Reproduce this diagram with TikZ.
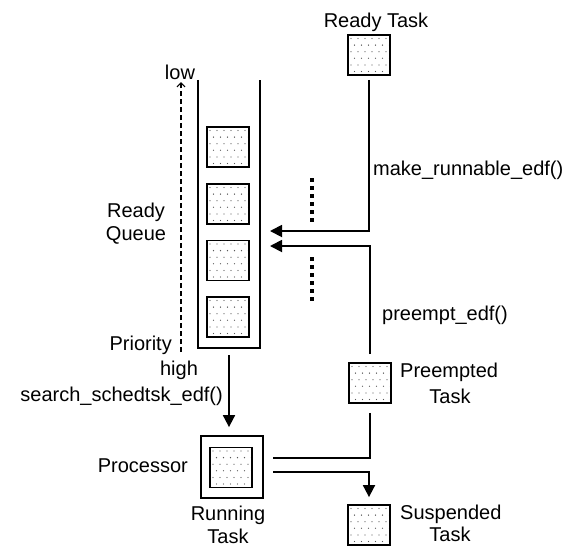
\documentclass[tikz,border=0pt]{standalone}
\usepackage{fontspec}
\setmainfont{Liberation Sans}
\usetikzlibrary{arrows.meta,calc}
\begin{document}
\begin{tikzpicture}[x=1pt,y=-1pt,
  lbl/.style={font=\fontsize{20}{23}\selectfont, inner sep=0pt, anchor=base},
  dotfill/.style={path picture={
    \foreach \r in {0,...,5}{
      \pgfmathsetmacro\off{mod(\r,2)*3.5}
      \foreach \c in {0,...,5}{
        \fill[black!65] ([shift={(\c*7+3+\off,\r*6.6+3.5)}]path picture bounding box.north west) circle (0.65pt);
      }}}},
  taskbox/.style={draw, line width=1.8pt, minimum width=42pt, minimum height=40pt, inner sep=0pt, dotfill},
  conn/.style={line width=1.8pt},
  tip/.style={-{Triangle[length=12pt,width=12pt]}},
]
\useasboundingbox (0,0) rectangle (574,547);

% ready queue container
\node[minimum width=62pt, minimum height=268pt, inner sep=0pt] (queue) at (229,214) {};
\draw[line width=1.8pt] (queue.north west) -- (queue.south west) -- (queue.south east) -- (queue.north east);
\node[taskbox] (q1) at (228,147) {};
\node[taskbox] (q2) at (228,204) {};
\node[taskbox] (q3) at (228,260.5) {};
\node[taskbox] (q4) at (228,317) {};

% tasks
\node[taskbox] (rt) at (369,55) {};
\node[taskbox] (pt) at (370,383) {};
\node[taskbox] (st) at (369,525) {};
\node[draw, line width=1.8pt, minimum width=62pt, minimum height=62pt, inner sep=0pt] (proc) at (232,467) {};
\node[taskbox] (rn) at (231,467.5) {};

% coordinates
\coordinate (in1) at (270,231);
\coordinate (in2) at (270,246);
\coordinate (out1) at (273,458);
\coordinate (out2) at (273,472);
\coordinate (prlow) at (181,82);
\coordinate (prhigh) at (181,352);
\coordinate (d1a) at (312,178);
\coordinate (d1b) at (312,222);
\coordinate (d2a) at (312,257);
\coordinate (d2b) at (312,301);

% connectors
\draw[conn,tip] ($(rt.south)+(0,4)$) |- (in1);
\draw[conn,tip] ($(pt.north)+(0,-8)$) |- (in2);
\draw[conn] ($(pt.south)+(0,9)$) |- (out1);
\draw[conn,tip] (out2) -| ($(st.north)+(0,-7)$);
\draw[conn,tip] ($(queue.south)+(0,7)$) -- ($(proc.north -| queue.south)+(0,-8)$);
\draw[line width=1.2pt, dash pattern=on 5pt off 3pt, -{Straight Barb[length=4pt,width=8pt]}] (prhigh) -- (prlow);
\draw[line width=4pt, dash pattern=on 4pt off 4pt] (d1a) -- (d1b);
\draw[line width=4pt, dash pattern=on 4pt off 4pt] (d2a) -- (d2b);

% labels
\node[lbl] (lrt) at (376,27) {Ready Task};
\node[lbl] (llow) at (180,79) {low};
\node[lbl] (lrq1) at (136,217) {Ready};
\node[lbl] (lrq2) at (136,240) {Queue};
\node[lbl, anchor=base east] (lprio) at (172,350) {Priority};
\node[lbl] (lhigh) at (179,375) {high};
\node[lbl, anchor=base east] (lsearch) at (223,401) {search\_schedtsk\_edf()};
\node[lbl, anchor=base west] (lmake) at (373,175) {make\_runnable\_edf()};
\node[lbl, anchor=base west] (lpre) at (382,320) {preempt\_edf()};
\node[lbl, anchor=base west] (lpt1) at (400,377) {Preempted};
\node[lbl] (lpt2) at (450,403) {Task};
\node[lbl, anchor=base west] (lst1) at (400,519) {Suspended};
\node[lbl] (lst2) at (450,541) {Task};
\node[lbl, anchor=base east] (lproc) at (188,472) {Processor};
\node[lbl] (lrn1) at (228,520) {Running};
\node[lbl] (lrn2) at (228,543) {Task};
\end{tikzpicture}
\end{document}
